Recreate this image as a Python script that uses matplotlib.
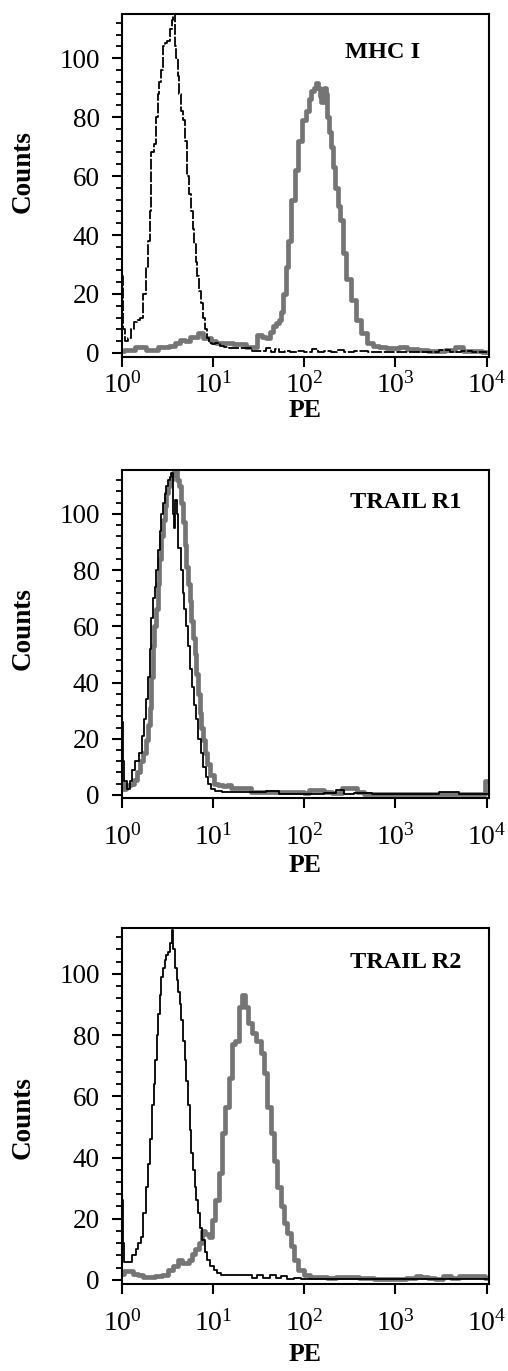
import matplotlib
matplotlib.use("Agg")
import matplotlib.pyplot as plt
from matplotlib.ticker import MultipleLocator, FixedLocator

plt.rcParams['font.family'] = 'serif'
plt.rcParams['font.serif'] = ['Liberation Serif', 'DejaVu Serif']

# ---- data (PE channel, counts) ----
mhc_ctrl_x = [1.0, 1.04, 1.1, 1.2, 1.3, 1.4, 1.5, 1.6, 1.75, 1.87, 1.95, 2.03, 2.11, 2.3, 2.4,
              2.5, 2.6, 2.72, 2.9, 3.05, 3.2, 3.4, 3.55, 3.7, 3.87, 4.0, 4.15, 4.3, 4.5, 4.7,
              4.98, 5.3, 5.6, 5.85, 6.1, 6.3, 6.55, 6.8, 7.2, 7.5, 7.9, 8.3, 8.7, 9.2, 10,
              11, 12.5, 14, 16, 20, 25, 28, 35, 40, 45, 50, 56, 65, 75, 90, 110, 130, 150,
              180, 210, 250, 300, 400, 600, 800, 1000, 1500, 2500, 3500, 4500, 6000, 8000, 10000]
mhc_ctrl_y = [26, 8, 4, 5, 8, 10.5, 11, 12, 20, 29, 38, 48, 68, 71, 80,
              88, 92, 96, 104, 105, 106, 110, 113, 115, 104, 100, 94, 88, 82, 79,
              72, 60, 54, 48, 42, 37, 31, 26, 21, 17, 12, 8, 5, 3.5, 3,
              3.4, 2.5, 2, 1.7, 1.8, 1.5, 0.6, 0.5, 1.5, 0.3, 1.2, 0.4, 0.8, 0.3, 0.5, 0.3, 1.2, 0.4,
              0.6, 0.2, 1.0, 0.3, 0.5, 0.2, 0.4, 0.2, 0.3, 0.2, 1.0, 0.3, 0.5, 0.2, 0.3]

mhc_x = [1.0, 1.1, 1.3, 1.45, 1.7, 1.9, 2.3, 2.6, 3.0, 3.5, 4.0, 4.6, 5.2, 5.8, 6.5,
         7.2, 8.0, 9.0, 10, 11.5, 13, 15, 18, 21, 25, 28, 32.5, 36, 40, 44,
         47, 51, 54, 57, 60, 64, 69, 75, 82, 89, 98, 109, 116, 123, 130,
         138, 145, 150, 158, 167, 175, 182, 190, 199, 212, 225, 240, 256, 277, 302,
         343, 389, 442, 523, 600, 727, 850, 1000, 1200, 1500, 2000, 2500, 3000, 4000, 5000,
         6000, 8000, 10000]
mhc_y = [0.5, 1, 1, 2, 2, 1, 1, 2, 2, 2.5, 3.5, 4.4, 4, 5.5, 5.5,
         6.7, 5, 5, 4, 3.5, 3.3, 3.4, 3, 3, 2, 2, 6, 5.5, 5, 7,
         9, 10, 11, 14, 20, 29, 38, 52, 62, 72, 79, 82, 86, 89, 90,
         91.5, 90, 87, 85, 90, 88, 80, 75, 70, 63, 56, 50, 45, 34, 25,
         18, 11, 6.7, 3.4, 2.5, 2, 1.6, 1.5, 2, 1.2, 1.0, 0.5, 0.6, 1.0, 2,
         0.8, 0.5, 0.4]

r1_ctrl_x = [1.0, 1.03, 1.08, 1.17, 1.25, 1.33, 1.45, 1.58, 1.7, 1.79, 1.87, 1.95, 2.03, 2.12, 2.22,
             2.31, 2.4, 2.51, 2.62, 2.73, 2.85, 2.97, 3.1, 3.23, 3.37, 3.52, 3.65, 3.76, 3.9, 4.0,
             4.2, 4.53, 4.7, 4.93, 5.15, 5.37, 5.65, 5.94, 6.25, 6.6, 7.0, 7.5, 8.0, 8.5, 9.0,
             9.7, 11, 14, 20, 30, 45, 60, 90, 130, 200, 240, 300, 400, 700, 1000,
             2000, 4000, 6000, 10000]
r1_ctrl_y = [26, 12, 5, 2, 5, 9, 12, 15, 21, 27, 34, 42, 52, 63, 70,
             74, 80, 87, 94, 100, 104, 107, 110, 112, 113, 114.5, 100, 95, 105, 100,
             88, 80, 72, 66, 60, 53, 45, 38.5, 32, 27, 20, 15, 10, 6.5, 4,
             2, 1.5, 1.0, 1.0, 1.0, 1.5, 0.5, 0.5, 0.3, 0.8, 1.8, 0.4, 0.6, 0.3, 0.3,
             0.4, 1.2, 0.4, 0.5]

r1_x = [1.0, 1.05, 1.17, 1.3, 1.4, 1.52, 1.64, 1.75, 1.87, 1.95, 2.03, 2.12, 2.21, 2.3, 2.4,
        2.5, 2.62, 2.73, 2.85, 2.97, 3.1, 3.23, 3.37, 3.6, 3.83, 4.1, 4.35, 4.52, 4.72, 4.92,
        5.13, 5.35, 5.6, 5.85, 6.1, 6.35, 6.6, 6.9, 7.2, 7.5, 7.8, 8.3, 8.9, 9.6, 10.5,
        12, 13.5, 15, 16.6, 20, 24.5, 27.6, 35, 50, 70, 91, 105, 117, 150, 178,
        220, 295, 350, 413, 500, 800, 1500, 3000, 6000, 9000, 10000]
r1_y = [5, 2, 3.5, 4, 5.3, 8, 12, 15, 19.6, 25, 31, 42, 53, 60, 66,
        75, 84, 92, 98, 103, 107.5, 110, 112, 114, 115.5, 112, 110, 104, 97, 89,
        81, 75, 69, 62, 56, 50, 43, 36, 29, 24, 19.6, 15, 11, 7, 4,
        3.5, 3.2, 3.5, 2.5, 2.4, 2.4, 1.2, 1.2, 1.0, 1.2, 1.0, 0.6, 1.8, 1.8, 1.0,
        0.8, 2.5, 2.5, 1.0, 0.4, 0.3, 0.3, 0.3, 0.3, 0.4, 5]

r2_ctrl_x = [1.0, 1.03, 1.08, 1.2, 1.35, 1.45, 1.55, 1.64, 1.75, 1.87, 1.95, 2.03, 2.16, 2.25, 2.34,
             2.42, 2.51, 2.62, 2.73, 2.85, 2.97, 3.1, 3.23, 3.4, 3.57, 3.72, 3.9, 4.05, 4.17, 4.35,
             4.53, 4.73, 4.93, 5.15, 5.37, 5.6, 5.84, 6.1, 6.35, 6.6, 6.9, 7.3, 7.8, 8.3, 8.9,
             9.6, 10.5, 11.5, 13, 18, 25.6, 28, 33, 38, 45, 52, 60, 70, 85, 100,
             150, 200, 300, 600, 1000, 3000, 6000, 10000]
r2_ctrl_y = [26, 12, 6, 6, 8, 10, 12, 14, 22, 30.5, 38, 46, 57, 64, 72,
             80, 87, 93, 99, 102, 104.6, 106, 107, 110, 114.4, 108, 102, 98, 94, 90,
             85, 78, 72, 65, 57, 49, 41.4, 36, 30.5, 26, 22, 17, 13, 9, 6.5,
             4.5, 3.3, 2.2, 1.6, 1.6, 1.6, 0.6, 1.5, 0.5, 1.5, 0.5, 1.2, 0.4, 0.6, 0.3,
             0.3, 0.4, 0.3, 0.2, 0.2, 0.3, 0.2, 0.3]

r2_x = [1.0, 1.1, 1.25, 1.4, 1.6, 1.8, 2.1, 2.5, 3.0, 3.4, 3.8, 4.3, 4.7, 5.1, 5.6,
        6.1, 6.6, 7.2, 7.85, 8.5, 9.3, 10.1, 11, 12, 13, 14.1, 15.4, 16.8, 18.2, 19.9,
        21.3, 23.1, 25.1, 27.9, 31.6, 34.4, 37.4, 40.7, 44.3, 48.2, 52.5, 57, 62, 67.6, 73.5,
        80, 90.8, 107, 125, 150, 200, 250, 345, 450, 700, 1000, 1600, 1800, 2050, 2500,
        3000, 3700, 4500, 5500, 7000, 9300, 10000]
r2_y = [2, 3, 3, 2, 1.5, 1.0, 1.0, 1.2, 1.5, 3.3, 4.5, 6.5, 5.5, 5.5, 6.5,
        8.5, 10, 12, 16, 15, 14, 19.6, 26, 35, 48, 56.6, 66, 77, 78, 89,
        93, 89, 84, 80.7, 78, 74, 67.6, 56.6, 48, 39, 30.5, 24, 18.6, 15.3, 11,
        6.5, 3.3, 1.6, 1.1, 1.1, 0.6, 1.1, 1.1, 0.5, 0.4, 0.4, 0.5, 1.3, 1.1, 0.5,
        0.4, 1.3, 0.8, 1.3, 1.3, 1.3, 0.8]

labels = ["MHC I", "TRAIL R1", "TRAIL R2"]
y_ticks = [0, 20, 40, 60, 80, 100]
x_ticks = [1, 10, 100, 1000, 10000]

panels = [
    (mhc_ctrl_x, mhc_ctrl_y, mhc_x, mhc_y),
    (r1_ctrl_x, r1_ctrl_y, r1_x, r1_y),
    (r2_ctrl_x, r2_ctrl_y, r2_x, r2_y),
]

rects = [[0.240, 0.7396, 0.723, 0.2502],
         [0.240, 0.4179, 0.723, 0.2392],
         [0.240, 0.0635, 0.723, 0.2597]]
ylims = [(-1.4, 115), (-1.1, 115.6), (-1.3, 115)]
xpads = [4, 12, 12]
counts_y = [0.54, 0.518, 0.466]
pe_y = [-0.155, -0.205, -0.197]
ctrl_styles = [(0, (6, 1)), '-', '-']
label_pos = [(0.711, 0.889), (0.773, 0.90), (0.773, 0.904)]

fig = plt.figure(figsize=(5.08, 13.71), dpi=100)

for i, (bx, by, gx, gy) in enumerate(panels):
    ax = fig.add_axes(rects[i])
    ax.step(gx, gy, where='mid', color='#757575', lw=3.4, zorder=2)
    ax.step(bx, by, where='mid', color='black', lw=1.3, ls=ctrl_styles[i], zorder=3)

    ax.set_xscale('log')
    ax.set_xlim(0.99, 1.07e4)
    ax.set_ylim(*ylims[i])
    ax.xaxis.set_major_locator(FixedLocator(x_ticks))
    ax.yaxis.set_major_locator(FixedLocator(y_ticks))
    ax.yaxis.set_minor_locator(MultipleLocator(4))

    for s in ax.spines.values():
        s.set_linewidth(1.5)
    ax.tick_params(axis='both', which='major', direction='out', length=7, width=1.5)
    ax.tick_params(axis='both', which='minor', direction='out', length=4.5, width=1.3)
    ax.tick_params(axis='y', which='major', pad=9, labelsize=19.5)
    ax.tick_params(axis='x', which='major', pad=xpads[i], labelsize=20)

    ax.set_ylabel("Counts", fontsize=19.5, fontweight='bold')
    ax.yaxis.set_label_coords(-0.27, counts_y[i])
    ax.yaxis.label.set_va('center')
    ax.set_xlabel("PE", fontsize=18.5, fontweight='bold')
    ax.xaxis.set_label_coords(0.5, pe_y[i])
    ax.xaxis.label.set_va('center')

    ax.text(label_pos[i][0], label_pos[i][1], labels[i], transform=ax.transAxes,
            ha='center', va='center', fontsize=17.5, fontweight='bold')

fig.savefig("out.png", dpi=100)
